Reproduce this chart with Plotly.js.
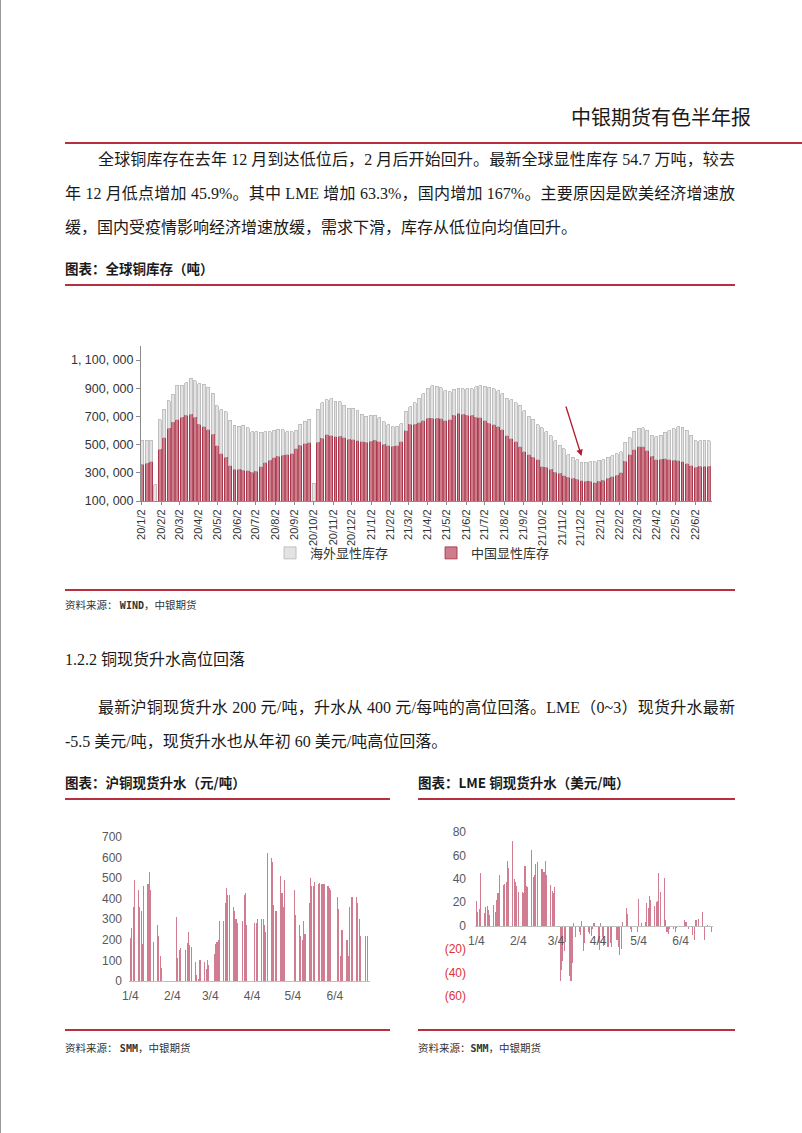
<!DOCTYPE html>
<html>
<head>
<meta charset="utf-8">
<script src="https://cdn.plot.ly/plotly-3.0.1.min.js"></script>
<style>
html,body{margin:0;padding:0;background:#fff;}
body{width:802px;height:1133px;position:relative;overflow:hidden;font-family:"Liberation Serif","Noto Sans CJK SC",serif;color:#1a1a1a;}
.abs{position:absolute;white-space:nowrap;}
.rl{position:absolute;height:2px;background:#b8303f;}
.line{position:absolute;left:65px;width:670px;font-size:16px;line-height:20px;white-space:nowrap;}
.just{text-align:justify;text-align-last:justify;white-space:normal;}
.ttl{position:absolute;font-family:"Noto Sans CJK SC",sans-serif;font-weight:bold;font-size:13.5px;line-height:16px;white-space:nowrap;}
.src{position:absolute;font-family:"Noto Sans CJK SC",sans-serif;font-size:10.5px;line-height:14px;white-space:nowrap;color:#333;}
.src b{font-family:"DejaVu Sans Mono",monospace;font-weight:bold;font-size:10px;}
.chart{position:absolute;}
</style>
</head>
<body>
<div class="abs" style="left:0;top:0;width:1px;height:1133px;background:#9a9a9a;"></div>
<div class="abs" style="right:51px;top:106px;font-size:20px;line-height:24px;">中银期货有色半年报</div>
<div class="rl" style="left:65px;top:142px;width:737px;"></div>

<div class="line just" style="top:150px;left:98px;width:637px;">全球铜库存在去年 12 月到达低位后，2 月后开始回升。最新全球显性库存 54.7 万吨，较去</div>
<div class="line just" style="top:184px;">年 12 月低点增加 45.9%。其中 LME 增加 63.3%，国内增加 167%。主要原因是欧美经济增速放</div>
<div class="line" style="top:218px;">缓，国内受疫情影响经济增速放缓，需求下滑，库存从低位向均值回升。</div>

<div class="ttl" style="left:65px;top:260px;">图表：全球铜库存（吨）</div>
<div class="rl" style="left:65px;top:284px;width:670px;"></div>
<div id="chartStock" class="chart" style="left:65px;top:330px;width:670px;height:250px;"></div>
<div class="rl" style="left:65px;top:589px;width:670px;"></div>
<div class="src" style="left:65px;top:598px;">资料来源： <b>WIND</b>，中银期货</div>

<div class="line" style="top:650px;">1.2.2 铜现货升水高位回落</div>
<div class="line just" style="top:698px;left:98px;width:637px;">最新沪铜现货升水 200 元/吨，升水从 400 元/每吨的高位回落。LME（0~3）现货升水最新</div>
<div class="line" style="top:732px;">-5.5 美元/吨，现货升水也从年初 60 美元/吨高位回落。</div>

<div class="ttl" style="left:65px;top:774px;">图表：沪铜现货升水（元/吨）</div>
<div class="ttl" style="left:418px;top:774px;">图表：LME 铜现货升水（美元/吨）</div>
<div class="rl" style="left:65px;top:798px;width:325px;"></div>
<div class="rl" style="left:418px;top:798px;width:317px;"></div>
<div id="chartSh" class="chart" style="left:65px;top:810px;width:325px;height:210px;"></div>
<div id="chartLme" class="chart" style="left:418px;top:810px;width:317px;height:210px;"></div>
<div class="rl" style="left:65px;top:1029px;width:325px;"></div>
<div class="rl" style="left:418px;top:1029px;width:317px;"></div>
<div class="src" style="left:65px;top:1041px;">资料来源： <b>SMM</b>，中银期货</div>
<div class="src" style="left:418px;top:1041px;">资料来源：<b>SMM</b>，中银期货</div>

<script>
// ---------- Chart 1: global visible copper stocks (tons), weekly ----------
const weekDates = [
"2020-01-03","2020-01-10","2020-01-17","2020-01-24","2020-01-31","2020-02-07","2020-02-14","2020-02-21","2020-02-28",
"2020-03-06","2020-03-13","2020-03-20","2020-03-27","2020-04-03","2020-04-10","2020-04-17","2020-04-24",
"2020-05-01","2020-05-08","2020-05-15","2020-05-22","2020-05-29","2020-06-05","2020-06-12","2020-06-19","2020-06-26",
"2020-07-03","2020-07-10","2020-07-17","2020-07-24","2020-07-31","2020-08-07","2020-08-14","2020-08-21","2020-08-28",
"2020-09-04","2020-09-11","2020-09-18","2020-09-25","2020-10-02","2020-10-09","2020-10-16","2020-10-23","2020-10-30",
"2020-11-06","2020-11-13","2020-11-20","2020-11-27","2020-12-04","2020-12-11","2020-12-18","2020-12-25",
"2021-01-01","2021-01-08","2021-01-15","2021-01-22","2021-01-29","2021-02-05","2021-02-12","2021-02-19","2021-02-26",
"2021-03-05","2021-03-12","2021-03-19","2021-03-26","2021-04-02","2021-04-09","2021-04-16","2021-04-23","2021-04-30",
"2021-05-07","2021-05-14","2021-05-21","2021-05-28","2021-06-04","2021-06-11","2021-06-18","2021-06-25",
"2021-07-02","2021-07-09","2021-07-16","2021-07-23","2021-07-30","2021-08-06","2021-08-13","2021-08-20","2021-08-27",
"2021-09-03","2021-09-10","2021-09-17","2021-09-24","2021-10-01","2021-10-08","2021-10-15","2021-10-22","2021-10-29",
"2021-11-05","2021-11-12","2021-11-19","2021-11-26","2021-12-03","2021-12-10","2021-12-17","2021-12-24","2021-12-31",
"2022-01-07","2022-01-14","2022-01-21","2022-01-28","2022-02-04","2022-02-11","2022-02-18","2022-02-25",
"2022-03-04","2022-03-11","2022-03-18","2022-03-25","2022-04-01","2022-04-08","2022-04-15","2022-04-22","2022-04-29",
"2022-05-06","2022-05-13","2022-05-20","2022-05-27","2022-06-03","2022-06-10","2022-06-17","2022-06-24"
];
const chinaStock = [
360000,368000,377000,null,466000,549000,615000,660000,676000,694000,709000,716000,696000,646000,626000,605000,573000,
491000,437000,410000,351000,327000,324000,319000,314000,304000,311000,343000,372000,390000,408000,418000,426000,430000,
437000,472000,496000,508000,515000,null,518000,544000,570000,563000,555000,559000,550000,539000,534000,527000,521000,518000,
525000,530000,521000,502000,491000,489000,493000,520000,597000,643000,644000,656000,669000,687000,689000,689000,684000,
670000,676000,708000,723000,717000,707000,707000,696000,691000,668000,653000,641000,627000,604000,564000,543000,522000,
484000,450000,429000,411000,393000,342000,338000,325000,305000,297000,280000,270000,261000,255000,245000,239000,239000,
228000,241000,249000,260000,271000,284000,300000,383000,429000,464000,484000,485000,457000,416000,393000,398000,400000,
394000,388000,384000,380000,365000,351000,339000,346000,347000,347000
];
const overseasStock = [
170000,162000,155000,215000,212000,201000,198000,197000,245000,226000,231000,256000,256000,286000,304000,301000,293000,
285000,311000,323000,322000,310000,307000,318000,305000,288000,281000,245000,218000,202000,194000,190000,178000,163000,
155000,130000,148000,159000,165000,227000,234000,252000,249000,264000,254000,247000,229000,219000,224000,212000,193000,185000,
182000,177000,171000,160000,149000,139000,136000,130000,141000,127000,152000,172000,193000,213000,228000,227000,218000,
213000,200000,185000,178000,180000,190000,188000,214000,227000,247000,255000,257000,254000,256000,264000,275000,276000,
295000,292000,274000,270000,247000,278000,254000,239000,221000,199000,190000,158000,148000,139000,129000,135000,138000,
150000,148000,144000,149000,150000,150000,150000,135000,121000,130000,132000,134000,146000,152000,162000,170000,188000,
206000,224000,242000,245000,237000,214000,188000,180000,184000,181000
];
const monthTickLabels = [
"20/1/2","20/2/2","20/3/2","20/4/2","20/5/2","20/6/2","20/7/2","20/8/2","20/9/2","20/10/2","20/11/2","20/12/2",
"21/1/2","21/2/2","21/3/2","21/4/2","21/5/2","21/6/2","21/7/2","21/8/2","21/9/2","21/10/2","21/11/2","21/12/2",
"22/1/2","22/2/2","22/3/2","22/4/2","22/5/2","22/6/2"
];
const stockTickVals = [100000,300000,500000,700000,900000,1100000];
const stockTickText = ["100, 000","300, 000","500, 000","700, 000","900, 000","1, 100, 000"];
const seriesNames = ["中国显性库存","海外显性库存"];

// ---------- Chart 2: SHFE copper spot premium (CNY/t), daily 2022 ----------
const shDates = [
"2022-01-04","2022-01-05","2022-01-06","2022-01-07","2022-01-10","2022-01-11","2022-01-12","2022-01-13","2022-01-14",
"2022-01-17","2022-01-18","2022-01-19","2022-01-21","2022-01-24","2022-01-25","2022-01-26","2022-01-27",
"2022-02-07","2022-02-08","2022-02-09","2022-02-10","2022-02-14","2022-02-15","2022-02-16","2022-02-17","2022-02-18",
"2022-02-21","2022-02-22","2022-02-23","2022-02-24","2022-02-25","2022-02-28","2022-03-01","2022-03-02","2022-03-03",
"2022-03-07","2022-03-08","2022-03-09","2022-03-10","2022-03-11","2022-03-14","2022-03-15","2022-03-16","2022-03-17","2022-03-18",
"2022-03-21","2022-03-22","2022-03-23","2022-03-24","2022-03-28","2022-03-29","2022-03-30","2022-03-31",
"2022-04-06","2022-04-07","2022-04-08","2022-04-11","2022-04-12","2022-04-13","2022-04-14","2022-04-15",
"2022-04-18","2022-04-19","2022-04-20","2022-04-21","2022-04-22","2022-04-25","2022-04-26","2022-04-27","2022-04-28",
"2022-05-05","2022-05-06","2022-05-09","2022-05-10","2022-05-11","2022-05-12","2022-05-13",
"2022-05-16","2022-05-17","2022-05-18","2022-05-19","2022-05-20","2022-05-23","2022-05-24","2022-05-25","2022-05-26","2022-05-27",
"2022-05-30","2022-05-31","2022-06-01","2022-06-06","2022-06-07","2022-06-08","2022-06-09","2022-06-10",
"2022-06-13","2022-06-14","2022-06-15","2022-06-16","2022-06-17","2022-06-20","2022-06-21","2022-06-22","2022-06-23",
"2022-06-27","2022-06-28"
];
const shPremium = [
210,260,360,490,440,360,340,180,460,
470,530,440,190,270,220,120,65,
310,110,150,160,150,185,240,175,165,
90,30,10,100,100,90,60,100,80,
130,180,190,200,290,290,380,450,420,420,
360,340,300,280,290,420,430,270,
280,280,300,300,300,270,240,620,
600,580,370,340,340,510,430,360,490,
440,320,270,220,200,290,230,
380,500,460,460,480,470,475,470,470,470,
460,450,440,410,350,120,250,250,
200,120,360,410,410,410,380,300,220,
220,220
];
const dayTickLabels = ["1/4","2/4","3/4","4/4","5/4","6/4"];
const shTickVals = [0,100,200,300,400,500,600,700];

// ---------- Chart 3: LME copper cash premium (USD/t), daily 2022 ----------
const lmeDates = [
"2022-01-04","2022-01-05","2022-01-06","2022-01-07","2022-01-10","2022-01-11","2022-01-12","2022-01-13","2022-01-14",
"2022-01-17","2022-01-18","2022-01-19","2022-01-20","2022-01-21","2022-01-24","2022-01-25","2022-01-26","2022-01-27","2022-01-28",
"2022-01-31","2022-02-01","2022-02-02","2022-02-03","2022-02-04","2022-02-07","2022-02-08","2022-02-09","2022-02-10","2022-02-11",
"2022-02-14","2022-02-15","2022-02-16","2022-02-17","2022-02-18","2022-02-21","2022-02-22","2022-02-23","2022-02-24","2022-02-25",
"2022-02-28","2022-03-01","2022-03-02","2022-03-03","2022-03-07","2022-03-08","2022-03-09","2022-03-10","2022-03-11",
"2022-03-14","2022-03-15","2022-03-16","2022-03-17","2022-03-18","2022-03-21","2022-03-22","2022-03-23","2022-03-24","2022-03-25",
"2022-03-28","2022-03-29","2022-03-30","2022-03-31","2022-04-01","2022-04-04","2022-04-05","2022-04-06","2022-04-07","2022-04-08",
"2022-04-11","2022-04-12","2022-04-13","2022-04-14","2022-04-18","2022-04-19","2022-04-20","2022-04-21","2022-04-22",
"2022-04-25","2022-04-26","2022-04-28","2022-04-29","2022-05-03","2022-05-04","2022-05-06","2022-05-09","2022-05-10","2022-05-11",
"2022-05-12","2022-05-13","2022-05-16","2022-05-17","2022-05-18","2022-05-19","2022-05-20","2022-05-23","2022-05-24","2022-05-25",
"2022-05-26","2022-05-27","2022-05-30","2022-05-31","2022-06-01","2022-06-06","2022-06-07","2022-06-08","2022-06-10",
"2022-06-13","2022-06-14","2022-06-15","2022-06-16","2022-06-17","2022-06-20","2022-06-22","2022-06-24","2022-06-27"
];
const lmePremium = [
21,12,14,45,11,16,17,13,9,
18,12,22,28,43,35,36,37,55,49,
72,40,37,34,29,29,28,51,34,33,
65,42,43,53,54,48,48,46,55,43,
35,30,28,33,-47,-38,-30,-22,-14,
-43,-47,-32,2,-10,-5,-8,4,-22,-15,
-5,-7,-9,-3,2,-15,-21,2,-10,-17,
-18,-18,-15,-18,-12,-18,-25,-20,3,
15,10,-3,-5,-5,23,2,3,19,15,
25,22,17,20,21,45,29,41,5,-5,
-7,-3,-3,-5,-2,-1,5,3,-3,
-8,-12,5,5,6,12,-12,1,-5
];
const lmeTickVals = [80,60,40,20,0,-20,-40,-60];
const lmeTickLabels = ["80","60","40","20","0","(20)","(40)","(60)"];

// ---------- helpers ----------
const DAY = 86400000;
function monthLabelToDate(s){const p=s.split('/');return '20'+p[0]+'-'+p[1].padStart(2,'0')+'-'+p[2].padStart(2,'0');}
function dayLabelToDate(s){const p=s.split('/');return '2022-'+p[0].padStart(2,'0')+'-'+p[1].padStart(2,'0');}
const cfg = {staticPlot:true, displayModeBar:false};

// Chart 1
Plotly.newPlot('chartStock', [
  {type:'bar', name:seriesNames[0], x:weekDates, y:chinaStock, width:4.7*DAY,
   marker:{color:'#cd7d8c', line:{color:'#a3283f', width:0.8}}},
  {type:'bar', name:seriesNames[1], x:weekDates, y:overseasStock, width:4.7*DAY,
   marker:{color:'#e3e3e3', line:{color:'#b5b5b5', width:0.8}}}
], {
  width:670, height:250, margin:{l:76, r:23, t:16, b:75},
  paper_bgcolor:'rgba(0,0,0,0)', plot_bgcolor:'rgba(0,0,0,0)',
  barmode:'stack', bargap:0,
  showlegend:true,
  legend:{orientation:'h', x:0.226, y:-0.335, xanchor:'left', yanchor:'middle', traceorder:'reversed',
    entrywidth:116, entrywidthmode:'pixels',
    font:{family:'"Noto Sans CJK SC", sans-serif', size:13, color:'#333'}},
  xaxis:{type:'date', range:['2020-01-01','2022-06-29'],
    tickmode:'array', tickvals:monthTickLabels.map(monthLabelToDate), ticktext:monthTickLabels,
    tickangle:-90, ticks:'outside', ticklen:3, tickcolor:'#8c8c8c',
    showline:true, linecolor:'#8c8c8c', linewidth:1, showgrid:false, zeroline:false,
    tickfont:{family:'"Liberation Sans", Arial, sans-serif', size:11, color:'#333'}},
  yaxis:{range:[100000,1200000], tickmode:'array', tickvals:stockTickVals, ticktext:stockTickText,
    ticks:'outside', ticklen:4, tickcolor:'#8c8c8c', showline:true, linecolor:'#8c8c8c', linewidth:1,
    showgrid:false, zeroline:false,
    tickfont:{family:'"Liberation Sans", Arial, sans-serif', size:12.5, color:'#333'}},
  annotations:[{x:'2021-12-03', y:419000, xref:'x', yref:'y', ax:-16, ay:-51, text:'',
    showarrow:true, arrowhead:2, arrowsize:1, arrowwidth:1.3, arrowcolor:'#b01c30'}]
}, cfg);

// Chart 2
Plotly.newPlot('chartSh', [
  {type:'bar', x:shDates, y:shPremium, width:0.8*DAY, marker:{color:'#d17d91'}}
], {
  width:325, height:210, margin:{l:64, r:20, t:27, b:39},
  paper_bgcolor:'rgba(0,0,0,0)', plot_bgcolor:'rgba(0,0,0,0)',
  showlegend:false, bargap:0,
  xaxis:{type:'date', range:['2022-01-03','2022-06-30'], tickmode:'array',
    tickvals:dayTickLabels.map(dayLabelToDate), ticktext:dayTickLabels,
    showline:true, linecolor:'#bfbfbf', ticks:'', showgrid:false, zeroline:false,
    ticklabelstandoff:4, tickfont:{family:'"Liberation Sans", Arial, sans-serif', size:12, color:'#595959'}},
  yaxis:{range:[0,700], tickmode:'array', tickvals:shTickVals, showgrid:false, zeroline:false, showline:false,
    ticks:'', ticklabelstandoff:6, tickfont:{family:'"Liberation Sans", Arial, sans-serif', size:12, color:'#595959'}}
}, cfg);

// Chart 3
const lmeTickText = lmeTickLabels.map((t,i)=> lmeTickVals[i] < 0 ? '<span style="color:#e0323c">'+t+'</span>' : t);
Plotly.newPlot('chartLme', [
  {type:'bar', x:lmeDates, y:lmePremium, width:0.8*DAY, marker:{color:'#d17d91'}}
], {
  width:317, height:210, margin:{l:57, r:22, t:22, b:24},
  paper_bgcolor:'rgba(0,0,0,0)', plot_bgcolor:'rgba(0,0,0,0)',
  showlegend:false, bargap:0,
  xaxis:{type:'date', range:['2022-01-03','2022-06-28'], tickmode:'array',
    tickvals:dayTickLabels.map(dayLabelToDate), ticktext:dayTickLabels,
    anchor:'free', position:60/140,
    showline:true, linecolor:'#bfbfbf', ticks:'', showgrid:false, zeroline:false,
    ticklabelstandoff:4, tickfont:{family:'"Liberation Sans", Arial, sans-serif', size:12, color:'#595959'}},
  yaxis:{range:[-60,80], domain:[0,1], tickmode:'array', tickvals:lmeTickVals, ticktext:lmeTickText,
    showgrid:false, zeroline:false, showline:false, ticks:'', ticklabelstandoff:8,
    tickfont:{family:'"Liberation Sans", Arial, sans-serif', size:12, color:'#595959'}}
}, cfg);
</script>
</body>
</html>
